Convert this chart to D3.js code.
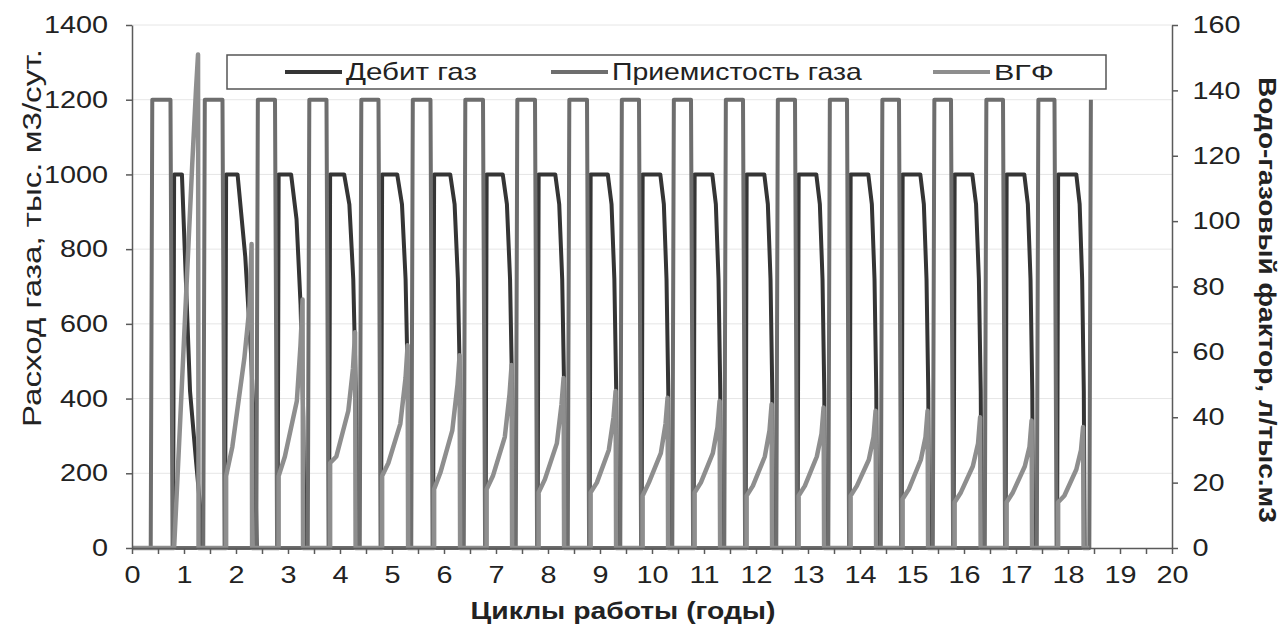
<!DOCTYPE html>
<html>
<head>
<meta charset="utf-8">
<script src="https://cdn.jsdelivr.net/npm/d3@7"></script>
<style>
  body { margin: 0; background: #fff; }
  text { font-family: "Liberation Sans", Arial, sans-serif; fill: #222; }
</style>
</head>
<body>
<svg id="chart" width="1287" height="624"></svg>
<script>
// ---- data ----
// gas injection (Приемистость газа), thous. m3/day
var injRate = 1200;
var injUp   = [0.36, 1.37, 2.39, 3.38, 4.38, 5.37, 6.38, 7.38, 8.38, 9.39, 10.39, 11.39, 12.39, 13.39, 14.40, 15.40, 16.40, 17.40, 18.41];
var injDown = [0.78, 1.78, 2.79, 3.78, 4.78, 5.78, 6.79, 7.79, 8.79, 9.79, 10.79, 11.79, 12.79, 13.79, 14.79, 15.79, 16.79, 17.78];

// gas production (Дебит газ)
var prodRate    = 1000;
var prodUp      = [0.79, 1.79, 2.80, 3.79, 4.79, 5.79, 6.80, 7.80, 8.80, 9.80, 10.80, 11.80, 12.80, 13.80, 14.80, 15.80, 16.80, 17.79];
var prodFlatEnd = [0.96, 2.03, 3.06, 4.08, 5.10, 6.12, 7.13, 8.14, 9.15, 10.16, 11.16, 12.16, 13.16, 14.16, 15.16, 16.16, 17.16, 18.16];
var prodEnd     = [1.35, 2.40, 3.32, 4.33, 5.33, 6.33, 7.33, 8.33, 9.33, 10.33, 11.33, 12.33, 13.33, 14.33, 15.33, 16.34, 17.33, 18.32];
// production during decline, at 40%, 70% and 90% of the decline
var prodD1 = [420, 780, 880, 920, 920, 920, 920, 920, 920, 920, 920, 920, 920, 920, 920, 920, 920, 920];
var prodD2 = [230, 520, 650, 720, 720, 720, 720, 720, 720, 720, 720, 720, 720, 720, 720, 720, 720, 720];
var prodD3 = [110, 260, 350, 420, 420, 420, 420, 420, 420, 420, 420, 420, 420, 420, 420, 420, 420, 420];
var seriesEnd = 18.41;

// water-gas factor (ВГФ), l/thous. m3 (right axis)
var vgfStart = [0, 22, 22, 26, 22, 18, 18, 17, 17, 16, 17, 16, 16, 16, 15, 14, 14, 14];
var vgfKnee  = [40, 31, 28, 28, 26, 23, 22, 21, 20, 20, 20, 19, 19, 19, 18, 17, 17, 16];
var vgfMid   = [118, 58, 45, 42, 38, 36, 34, 32, 30, 29, 29, 28, 28, 27, 27, 25, 25, 24];
var vgfLate  = [140, 74, 62, 55, 52, 50, 47, 44, 40, 38, 37, 36, 35, 34, 34, 32, 31, 30];
var vgfPeak  = [151, 93, 76, 66, 62, 59, 56, 52, 48, 46, 45, 44, 43, 42, 42, 40, 39, 37];
var vgfEnd   = [1.27, 2.30, 3.28, 4.29, 5.30, 6.30, 7.30, 8.30, 9.30, 10.30, 11.30, 12.30, 13.30, 14.30, 15.30, 16.31, 17.30, 18.29];

var xTicks = d3.range(0, 20.01, 0.5);
var yLeftTicks = [0, 200, 400, 600, 800, 1000, 1200, 1400];
var yRightTicks = [0, 20, 40, 60, 80, 100, 120, 140, 160];

var legendItems = [
  { name: "Дебит газ", color: "#353535" },
  { name: "Приемистость газа", color: "#6e6e6e" },
  { name: "ВГФ", color: "#8e8e8e" }
];

// ---- layout ----
var svg = d3.select("#chart");
var L = 132, R = 1172, T = 25, B = 548;
var tickStretch = 1.2;   // the scanned text is a little wide

var x = d3.scaleLinear().domain([0, 20]).range([L, R]);
var yL = d3.scaleLinear().domain([0, 1400]).range([B, T]);
var yR = d3.scaleLinear().domain([0, 160]).range([B, T]);

// faint grid
svg.append("g").selectAll("line")
  .data(yLeftTicks.slice(1))
  .enter().append("line")
  .attr("x1", L).attr("x2", R)
  .attr("y1", function(d) { return yL(d); })
  .attr("y2", function(d) { return yL(d); })
  .attr("stroke", "#e6e6e6").attr("stroke-width", 1);

// build the polylines
var injPts = [[0, 0]];
injUp.forEach(function(u, i) {
  injPts.push([u, 0], [u + 0.03, injRate]);
  if (i < injDown.length) injPts.push([injDown[i] - 0.04, injRate], [injDown[i], 0]);
});

var prodPts = [[0, 0]];
prodUp.forEach(function(u, i) {
  var f = prodFlatEnd[i], e = prodEnd[i], d = e - f;
  prodPts.push([u, 0], [u + 0.02, prodRate], [f, prodRate],
    [f + 0.4 * d, prodD1[i]], [f + 0.7 * d, prodD2[i]], [f + 0.9 * d, prodD3[i]], [e, 0]);
});
prodPts.push([seriesEnd, 0]);

var vgfPts = [[0, 0]];
prodUp.forEach(function(u, i) {
  var x0 = u + 0.02, e = vgfEnd[i];
  vgfPts.push([x0, 0], [x0, vgfStart[i]], [x0 + 0.12, vgfKnee[i]], [x0 + 0.35, vgfMid[i]],
    [e - 0.04, vgfLate[i]], [e, vgfPeak[i]], [e + 0.01, 0]);
});
vgfPts.push([seriesEnd, 0]);

var lineL = d3.line().x(function(d) { return x(d[0]); }).y(function(d) { return yL(d[1]); });
var lineR = d3.line().x(function(d) { return x(d[0]); }).y(function(d) { return yR(d[1]); });

function drawSeries(pts, gen, color, w) {
  svg.append("path")
    .datum(pts)
    .attr("d", gen)
    .attr("fill", "none")
    .attr("stroke", color)
    .attr("stroke-width", w)
    .attr("stroke-linejoin", "round");
}
drawSeries(prodPts, lineL, legendItems[0].color, 4);
drawSeries(injPts, lineL, legendItems[1].color, 4);
drawSeries(vgfPts, lineR, legendItems[2].color, 4.5);

// axes
function styleAxis(g) {
  g.selectAll("path, line").attr("stroke", "#5a5a5a").attr("stroke-width", 1.5);
  g.selectAll("text")
    .style("font-size", "24px")
    .attr("fill", "#222")
    .attr("transform", "scale(" + tickStretch + ",1)");
}
var fmt = d3.format("d");

svg.append("g")
  .attr("transform", "translate(0," + B + ")")
  .call(d3.axisBottom(x).tickValues(xTicks).tickSize(6).tickSizeOuter(0)
    .tickFormat(function(d) { return d % 1 === 0 ? fmt(d) : ""; }))
  .call(styleAxis)
  .selectAll("text").attr("dy", "1.1em");

svg.append("g")
  .attr("transform", "translate(" + L + ",0)")
  .call(d3.axisLeft(yL).tickValues(yLeftTicks).tickFormat(fmt).tickSize(6).tickSizeOuter(0).tickPadding(14))
  .call(styleAxis);

svg.append("g")
  .attr("transform", "translate(" + R + ",0)")
  .call(d3.axisRight(yR).tickValues(yRightTicks).tickFormat(fmt).tickSize(6).tickSizeOuter(0).tickPadding(11))
  .call(styleAxis);

// text stretched along its run to the width seen in the scan
function fittedText(cx, cy, rot, str, size, weight, width, anchor) {
  var t = svg.append("text")
    .attr("text-anchor", anchor || "middle")
    .style("font-size", size + "px")
    .style("font-weight", weight)
    .text(str);
  var k = width / t.node().getComputedTextLength();
  t.attr("transform", "translate(" + cx + "," + cy + ") rotate(" + rot + ") scale(" + k + ",1)");
  return t;
}

// axis titles
fittedText(41, 238, -90, "Расход  газа, тыс. м3/сут.", 25, "normal", 378);
fittedText(1259, 300, 90, "Водо-газовый фактор, л/тыс.м3", 24, "bold", 446);
fittedText(623, 619, 0, "Циклы работы (годы)", 24, "bold", 305);

// legend
var legend = svg.append("g");
legend.append("rect")
  .attr("x", 227).attr("y", 55).attr("width", 879).attr("height", 34)
  .attr("fill", "#fff").attr("stroke", "#555").attr("stroke-width", 1.5);

var legendX = [285, 551, 933];
var legendTextW = [131, 250, 60];
legendItems.forEach(function(it, i) {
  svg.append("line")
    .attr("x1", legendX[i]).attr("x2", legendX[i] + 57)
    .attr("y1", 72).attr("y2", 72)
    .attr("stroke", it.color).attr("stroke-width", 4);
  fittedText(legendX[i] + 61, 80, 0, it.name, 23, "normal", legendTextW[i], "start");
});
</script>
</body>
</html>
